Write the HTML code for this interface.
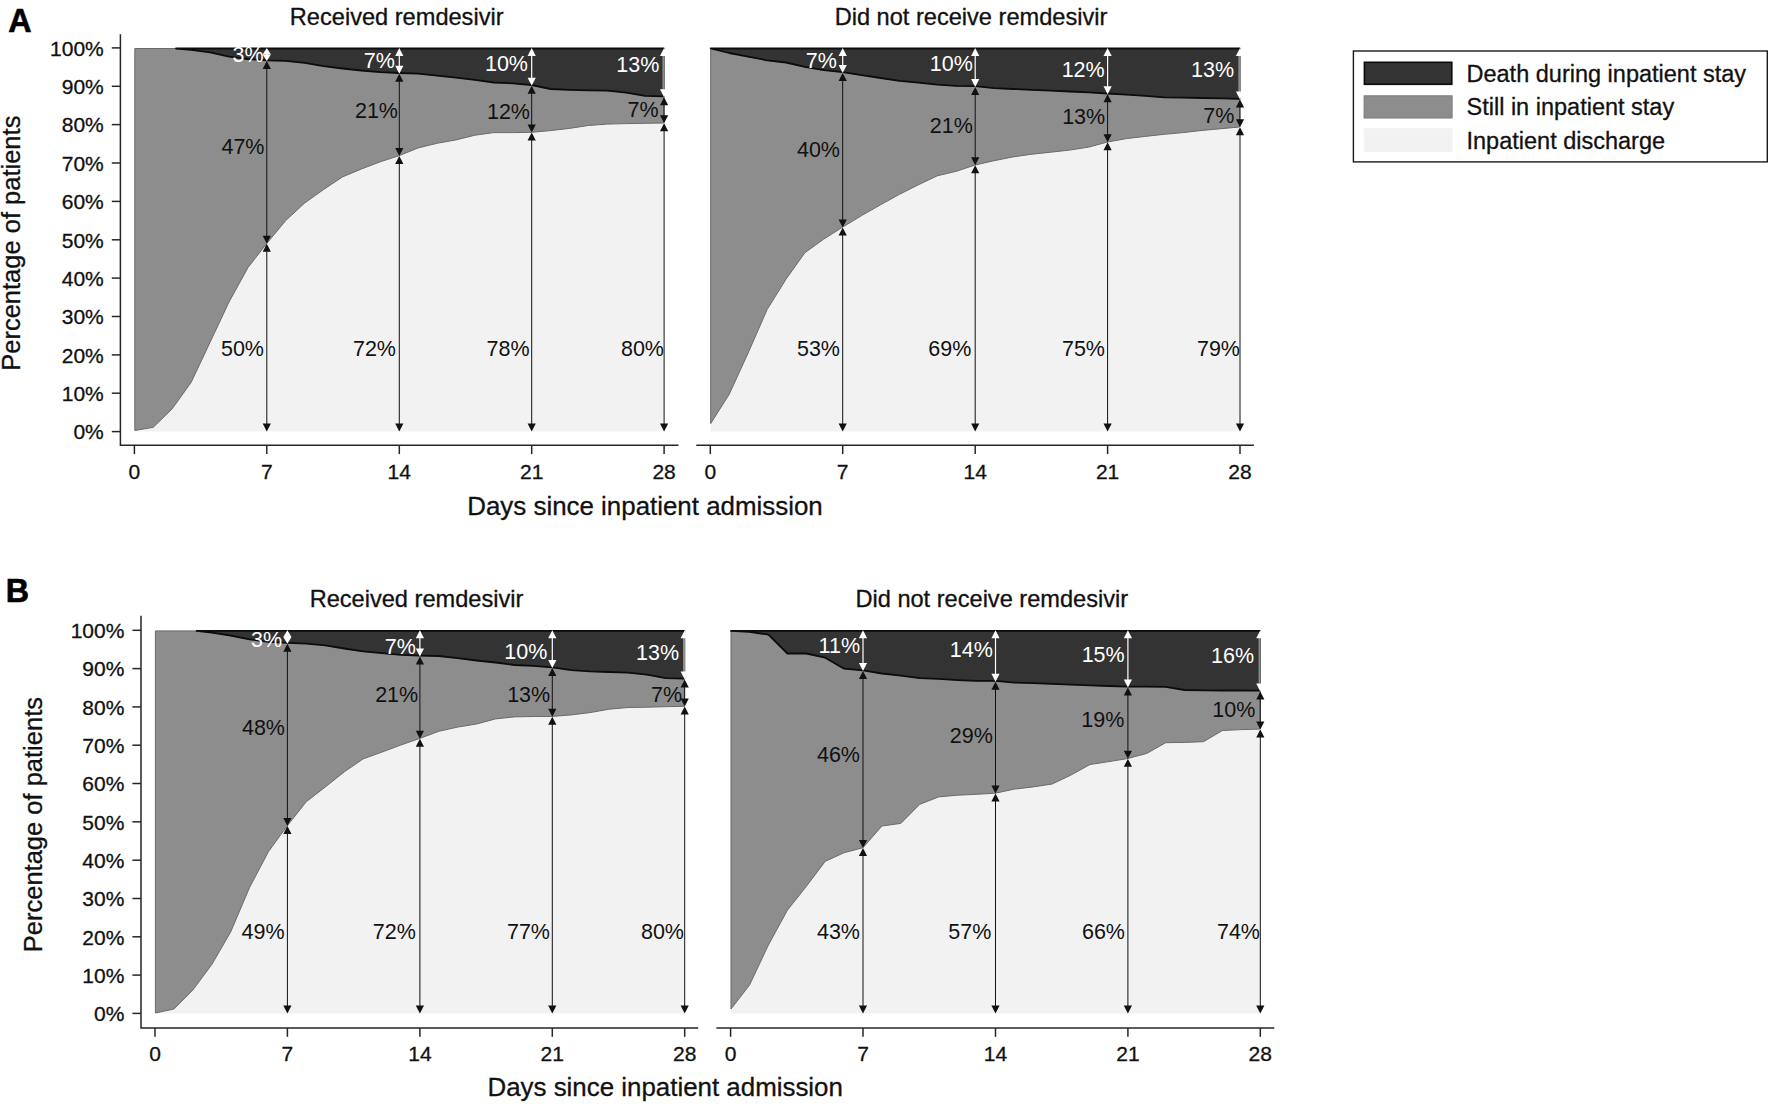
<!DOCTYPE html>
<html lang="en"><head><meta charset="utf-8"><title>Figure</title>
<style>
html,body{margin:0;padding:0;background:#fff}
body{width:1772px;height:1106px;overflow:hidden}
svg{display:block;font-family:"Liberation Sans", Arial, sans-serif}
</style></head><body>
<svg width="1772" height="1106" viewBox="0 0 1772 1106">
<rect width="1772" height="1106" fill="#fff"/>
<g>
<polygon points="134.8,431.6 134.8,430.5 153.3,427.3 172.2,408.8 191.2,382.3 210.1,342.2 229,302 247.9,267.7 266.8,243.4 285.7,220.6 304.7,203 323.6,189.5 342.5,176.9 361.4,169 380.3,161.8 399.3,155.6 418.2,147.9 437.1,143.3 456,139.9 474.9,135.2 493.8,132.6 512.8,132.6 531.7,132.3 550.6,130.6 569.5,128.4 588.4,125.5 607.4,124.1 626.3,123.6 645.2,123.3 663.7,123 663.7,431.6" fill="#f2f2f2"/>
<polygon points="134.8,48.5 176,48.5 191.2,49.8 210.1,52.3 229,56.6 247.9,59 266.8,60.3 285.7,60.8 304.7,62.9 323.6,66.1 342.5,68.5 361.4,70.5 380.3,72.1 399.3,73 418.2,73.7 437.1,75.7 456,77.7 474.9,79.9 493.8,82.5 512.8,83.3 531.7,85 550.6,89 569.5,89.8 588.4,90.3 607.4,90.7 626.3,92.7 645.2,95.8 663.7,96.4 663.7,123 645.2,123.3 626.3,123.6 607.4,124.1 588.4,125.5 569.5,128.4 550.6,130.6 531.7,132.3 512.8,132.6 493.8,132.6 474.9,135.2 456,139.9 437.1,143.3 418.2,147.9 399.3,155.6 380.3,161.8 361.4,169 342.5,176.9 323.6,189.5 304.7,203 285.7,220.6 266.8,243.4 247.9,267.7 229,302 210.1,342.2 191.2,382.3 172.2,408.8 153.3,427.3 134.8,430.5" fill="#8d8d8d" stroke="#6a6a6a" stroke-width="1" stroke-linejoin="round"/>
<polygon points="176,48.5 176,48.5 191.2,49.8 210.1,52.3 229,56.6 247.9,59 266.8,60.3 285.7,60.8 304.7,62.9 323.6,66.1 342.5,68.5 361.4,70.5 380.3,72.1 399.3,73 418.2,73.7 437.1,75.7 456,77.7 474.9,79.9 493.8,82.5 512.8,83.3 531.7,85 550.6,89 569.5,89.8 588.4,90.3 607.4,90.7 626.3,92.7 645.2,95.8 663.7,96.4 663.7,48.5" fill="#333333" stroke="#0c0c0c" stroke-width="1.8" stroke-linejoin="round"/>
<line x1="266.8" y1="247.7" x2="266.8" y2="427.6" stroke="#111" stroke-width="1.0"/><polygon points="266.8,243.7 262.7,251.7 270.9,251.7" fill="#111"/><polygon points="266.8,431.6 262.7,423.6 270.9,423.6" fill="#111"/>
<line x1="266.8" y1="65.1" x2="266.8" y2="239.7" stroke="#111" stroke-width="1.0"/><polygon points="266.8,61.1 262.7,69.1 270.9,69.1" fill="#111"/><polygon points="266.8,243.7 262.7,235.7 270.9,235.7" fill="#111"/>
<line x1="266.8" y1="51.2" x2="266.8" y2="57.8" stroke="#fff" stroke-width="1.2"/><polygon points="266.8,47.9 262.7,54.5 270.9,54.5" fill="#fff"/><polygon points="266.8,61.1 262.7,54.5 270.9,54.5" fill="#fff"/>
<line x1="399.3" y1="159.9" x2="399.3" y2="427.6" stroke="#111" stroke-width="1.0"/><polygon points="399.3,155.9 395.2,163.9 403.4,163.9" fill="#111"/><polygon points="399.3,431.6 395.2,423.6 403.4,423.6" fill="#111"/>
<line x1="399.3" y1="77.8" x2="399.3" y2="151.9" stroke="#111" stroke-width="1.0"/><polygon points="399.3,73.8 395.2,81.8 403.4,81.8" fill="#111"/><polygon points="399.3,155.9 395.2,147.9 403.4,147.9" fill="#111"/>
<line x1="399.3" y1="51.9" x2="399.3" y2="69.8" stroke="#fff" stroke-width="1.2"/><polygon points="399.3,47.9 395.2,55.9 403.4,55.9" fill="#fff"/><polygon points="399.3,73.8 395.2,65.8 403.4,65.8" fill="#fff"/>
<line x1="531.7" y1="136.6" x2="531.7" y2="427.6" stroke="#111" stroke-width="1.0"/><polygon points="531.7,132.6 527.6,140.6 535.8,140.6" fill="#111"/><polygon points="531.7,431.6 527.6,423.6 535.8,423.6" fill="#111"/>
<line x1="531.7" y1="89.8" x2="531.7" y2="128.6" stroke="#111" stroke-width="1.0"/><polygon points="531.7,85.8 527.6,93.8 535.8,93.8" fill="#111"/><polygon points="531.7,132.6 527.6,124.6 535.8,124.6" fill="#111"/>
<line x1="531.7" y1="51.9" x2="531.7" y2="81.8" stroke="#fff" stroke-width="1.2"/><polygon points="531.7,47.9 527.6,55.9 535.8,55.9" fill="#fff"/><polygon points="531.7,85.8 527.6,77.8 535.8,77.8" fill="#fff"/>
<line x1="664.1" y1="127.3" x2="664.1" y2="427.6" stroke="#111" stroke-width="1.0"/><polygon points="664.1,123.3 660,131.3 668.2,131.3" fill="#111"/><polygon points="664.1,431.6 660,423.6 668.2,423.6" fill="#111"/>
<line x1="664.1" y1="101.2" x2="664.1" y2="119.3" stroke="#111" stroke-width="1.0"/><polygon points="664.1,97.2 660,105.2 668.2,105.2" fill="#111"/><polygon points="664.1,123.3 660,115.3 668.2,115.3" fill="#111"/>
<line x1="663.4" y1="54.4" x2="663.4" y2="90.2" stroke="#8c8c8c" stroke-width="2"/>
<line x1="664.1" y1="51.9" x2="664.1" y2="93.2" stroke="#fff" stroke-width="0"/><polygon points="664.1,47.9 660,55.9 668.2,55.9" fill="#fff"/><polygon points="664.1,97.2 660,89.2 668.2,89.2" fill="#fff"/>
<text x="263.6" y="62.3" text-anchor="end" font-size="21.5" fill="#fff">3%</text>
<text x="264.5" y="154" text-anchor="end" font-size="21.5" fill="#111">47%</text>
<text x="264" y="356.3" text-anchor="end" font-size="21.5" fill="#111">50%</text>
<text x="394.8" y="68" text-anchor="end" font-size="21.5" fill="#fff">7%</text>
<text x="398" y="117.5" text-anchor="end" font-size="21.5" fill="#111">21%</text>
<text x="396" y="356.3" text-anchor="end" font-size="21.5" fill="#111">72%</text>
<text x="528" y="71.4" text-anchor="end" font-size="21.5" fill="#fff">10%</text>
<text x="530" y="118.5" text-anchor="end" font-size="21.5" fill="#111">12%</text>
<text x="529.6" y="356.3" text-anchor="end" font-size="21.5" fill="#111">78%</text>
<text x="659.4" y="72.3" text-anchor="end" font-size="21.5" fill="#fff">13%</text>
<text x="658.6" y="117.3" text-anchor="end" font-size="21.5" fill="#111">7%</text>
<text x="664" y="356.3" text-anchor="end" font-size="21.5" fill="#111">80%</text>
</g>
<g>
<polygon points="710.7,431.6 710.7,423.6 729.2,394.3 748.1,353 767.1,309.6 786,279.2 804.9,252.7 823.8,239.1 842.7,227.1 861.6,215.6 880.6,204.8 899.5,194.3 918.4,184.8 937.3,175.8 956.2,171.3 975.2,165 994.1,160.7 1013,156.9 1031.9,154.2 1050.8,152.2 1069.7,150.1 1088.7,147.1 1107.6,142 1126.5,138.6 1145.4,136.4 1164.3,134.3 1183.2,132.6 1202.2,130.4 1221.1,128.7 1239.6,127 1239.6,431.6" fill="#f2f2f2"/>
<polygon points="710.7,48.5 729.2,53 748.1,56.6 767.1,60.3 786,62.5 804.9,66.9 823.8,70.1 842.7,72.1 861.6,75.1 880.6,78 899.5,80.8 918.4,82.7 937.3,84.6 956.2,85.9 975.2,86.2 994.1,88.1 1013,89 1031.9,89.8 1050.8,90.7 1069.7,91.5 1088.7,92.4 1107.6,93.5 1126.5,94.7 1145.4,95.8 1164.3,97.3 1183.2,97.6 1202.2,98 1221.1,98.3 1239.6,98.8 1239.6,127 1221.1,128.7 1202.2,130.4 1183.2,132.6 1164.3,134.3 1145.4,136.4 1126.5,138.6 1107.6,142 1088.7,147.1 1069.7,150.1 1050.8,152.2 1031.9,154.2 1013,156.9 994.1,160.7 975.2,165 956.2,171.3 937.3,175.8 918.4,184.8 899.5,194.3 880.6,204.8 861.6,215.6 842.7,227.1 823.8,239.1 804.9,252.7 786,279.2 767.1,309.6 748.1,353 729.2,394.3 710.7,423.6" fill="#8d8d8d" stroke="#6a6a6a" stroke-width="1" stroke-linejoin="round"/>
<polygon points="710.7,48.5 710.7,48.5 729.2,53 748.1,56.6 767.1,60.3 786,62.5 804.9,66.9 823.8,70.1 842.7,72.1 861.6,75.1 880.6,78 899.5,80.8 918.4,82.7 937.3,84.6 956.2,85.9 975.2,86.2 994.1,88.1 1013,89 1031.9,89.8 1050.8,90.7 1069.7,91.5 1088.7,92.4 1107.6,93.5 1126.5,94.7 1145.4,95.8 1164.3,97.3 1183.2,97.6 1202.2,98 1221.1,98.3 1239.6,98.8 1239.6,48.5" fill="#333333" stroke="#0c0c0c" stroke-width="1.8" stroke-linejoin="round"/>
<line x1="842.7" y1="231.4" x2="842.7" y2="427.6" stroke="#111" stroke-width="1.0"/><polygon points="842.7,227.4 838.6,235.4 846.8,235.4" fill="#111"/><polygon points="842.7,431.6 838.6,423.6 846.8,423.6" fill="#111"/>
<line x1="842.7" y1="76.9" x2="842.7" y2="223.4" stroke="#111" stroke-width="1.0"/><polygon points="842.7,72.9 838.6,80.9 846.8,80.9" fill="#111"/><polygon points="842.7,227.4 838.6,219.4 846.8,219.4" fill="#111"/>
<line x1="842.7" y1="51.9" x2="842.7" y2="68.9" stroke="#fff" stroke-width="1.2"/><polygon points="842.7,47.9 838.6,55.9 846.8,55.9" fill="#fff"/><polygon points="842.7,72.9 838.6,64.9 846.8,64.9" fill="#fff"/>
<line x1="975.2" y1="169.3" x2="975.2" y2="427.6" stroke="#111" stroke-width="1.0"/><polygon points="975.2,165.3 971.1,173.3 979.3,173.3" fill="#111"/><polygon points="975.2,431.6 971.1,423.6 979.3,423.6" fill="#111"/>
<line x1="975.2" y1="91" x2="975.2" y2="161.3" stroke="#111" stroke-width="1.0"/><polygon points="975.2,87 971.1,95 979.3,95" fill="#111"/><polygon points="975.2,165.3 971.1,157.3 979.3,157.3" fill="#111"/>
<line x1="975.2" y1="51.9" x2="975.2" y2="83" stroke="#fff" stroke-width="1.2"/><polygon points="975.2,47.9 971.1,55.9 979.3,55.9" fill="#fff"/><polygon points="975.2,87 971.1,79 979.3,79" fill="#fff"/>
<line x1="1107.6" y1="146.3" x2="1107.6" y2="427.6" stroke="#111" stroke-width="1.0"/><polygon points="1107.6,142.3 1103.5,150.3 1111.7,150.3" fill="#111"/><polygon points="1107.6,431.6 1103.5,423.6 1111.7,423.6" fill="#111"/>
<line x1="1107.6" y1="98.3" x2="1107.6" y2="138.3" stroke="#111" stroke-width="1.0"/><polygon points="1107.6,94.3 1103.5,102.3 1111.7,102.3" fill="#111"/><polygon points="1107.6,142.3 1103.5,134.3 1111.7,134.3" fill="#111"/>
<line x1="1107.6" y1="51.9" x2="1107.6" y2="90.3" stroke="#fff" stroke-width="1.2"/><polygon points="1107.6,47.9 1103.5,55.9 1111.7,55.9" fill="#fff"/><polygon points="1107.6,94.3 1103.5,86.3 1111.7,86.3" fill="#fff"/>
<line x1="1240" y1="131.3" x2="1240" y2="427.6" stroke="#111" stroke-width="1.0"/><polygon points="1240,127.3 1235.9,135.3 1244.1,135.3" fill="#111"/><polygon points="1240,431.6 1235.9,423.6 1244.1,423.6" fill="#111"/>
<line x1="1240" y1="103.6" x2="1240" y2="123.3" stroke="#111" stroke-width="1.0"/><polygon points="1240,99.6 1235.9,107.6 1244.1,107.6" fill="#111"/><polygon points="1240,127.3 1235.9,119.3 1244.1,119.3" fill="#111"/>
<line x1="1239.3" y1="54.4" x2="1239.3" y2="92.6" stroke="#8c8c8c" stroke-width="2"/>
<line x1="1240" y1="51.9" x2="1240" y2="95.6" stroke="#fff" stroke-width="0"/><polygon points="1240,47.9 1235.9,55.9 1244.1,55.9" fill="#fff"/><polygon points="1240,99.6 1235.9,91.6 1244.1,91.6" fill="#fff"/>
<text x="836.9" y="67.7" text-anchor="end" font-size="21.5" fill="#fff">7%</text>
<text x="840" y="157.1" text-anchor="end" font-size="21.5" fill="#111">40%</text>
<text x="840" y="355.6" text-anchor="end" font-size="21.5" fill="#111">53%</text>
<text x="972.9" y="71.3" text-anchor="end" font-size="21.5" fill="#fff">10%</text>
<text x="972.9" y="133" text-anchor="end" font-size="21.5" fill="#111">21%</text>
<text x="971.3" y="355.6" text-anchor="end" font-size="21.5" fill="#111">69%</text>
<text x="1104.7" y="76.5" text-anchor="end" font-size="21.5" fill="#fff">12%</text>
<text x="1105.2" y="124.1" text-anchor="end" font-size="21.5" fill="#111">13%</text>
<text x="1105" y="355.6" text-anchor="end" font-size="21.5" fill="#111">75%</text>
<text x="1234.1" y="77.4" text-anchor="end" font-size="21.5" fill="#fff">13%</text>
<text x="1234.4" y="123.3" text-anchor="end" font-size="21.5" fill="#111">7%</text>
<text x="1240" y="355.6" text-anchor="end" font-size="21.5" fill="#111">79%</text>
</g>
<g>
<polygon points="155.4,1013.4 155.4,1013 173.9,1009 192.8,990.1 211.8,964.5 230.7,931.9 249.6,887.4 268.5,851.6 287.4,825.6 306.3,801.7 325.3,787 344.2,771.9 363.1,758.9 382,752.1 400.9,745 419.9,738.4 438.8,731.3 457.7,727.1 476.6,724 495.5,718.9 514.4,716.9 533.4,716.5 552.3,716.4 571.2,714.9 590.1,712.6 609,709.2 628,707.5 646.9,707.2 665.8,706.7 684.3,706.3 684.3,1013.4" fill="#f2f2f2"/>
<polygon points="155.4,630.9 196.6,630.9 211.8,632.7 230.7,635.5 249.6,639.3 268.5,641.8 287.4,642.9 306.3,643.7 325.3,645.3 344.2,648.5 363.1,651.3 382,653.2 400.9,654.8 419.9,655.6 438.8,656 457.7,658.2 476.6,660.5 495.5,662.5 514.4,665 533.4,665.9 552.3,667.3 571.2,670.1 590.1,671.3 609,672 628,672.7 646.9,674.7 665.8,678.1 684.3,678.6 684.3,706.3 665.8,706.7 646.9,707.2 628,707.5 609,709.2 590.1,712.6 571.2,714.9 552.3,716.4 533.4,716.5 514.4,716.9 495.5,718.9 476.6,724 457.7,727.1 438.8,731.3 419.9,738.4 400.9,745 382,752.1 363.1,758.9 344.2,771.9 325.3,787 306.3,801.7 287.4,825.6 268.5,851.6 249.6,887.4 230.7,931.9 211.8,964.5 192.8,990.1 173.9,1009 155.4,1013" fill="#8d8d8d" stroke="#6a6a6a" stroke-width="1" stroke-linejoin="round"/>
<polygon points="196.6,630.9 196.6,630.9 211.8,632.7 230.7,635.5 249.6,639.3 268.5,641.8 287.4,642.9 306.3,643.7 325.3,645.3 344.2,648.5 363.1,651.3 382,653.2 400.9,654.8 419.9,655.6 438.8,656 457.7,658.2 476.6,660.5 495.5,662.5 514.4,665 533.4,665.9 552.3,667.3 571.2,670.1 590.1,671.3 609,672 628,672.7 646.9,674.7 665.8,678.1 684.3,678.6 684.3,630.9" fill="#333333" stroke="#0c0c0c" stroke-width="1.8" stroke-linejoin="round"/>
<line x1="287.4" y1="829.9" x2="287.4" y2="1009.4" stroke="#111" stroke-width="1.0"/><polygon points="287.4,825.9 283.3,833.9 291.5,833.9" fill="#111"/><polygon points="287.4,1013.4 283.3,1005.4 291.5,1005.4" fill="#111"/>
<line x1="287.4" y1="647.7" x2="287.4" y2="821.9" stroke="#111" stroke-width="1.0"/><polygon points="287.4,643.7 283.3,651.7 291.5,651.7" fill="#111"/><polygon points="287.4,825.9 283.3,817.9 291.5,817.9" fill="#111"/>
<line x1="287.4" y1="633.6" x2="287.4" y2="640.3" stroke="#fff" stroke-width="1.2"/><polygon points="287.4,630.3 283.3,637 291.5,637" fill="#fff"/><polygon points="287.4,643.7 283.3,637 291.5,637" fill="#fff"/>
<line x1="419.9" y1="742.7" x2="419.9" y2="1009.4" stroke="#111" stroke-width="1.0"/><polygon points="419.9,738.7 415.8,746.7 424,746.7" fill="#111"/><polygon points="419.9,1013.4 415.8,1005.4 424,1005.4" fill="#111"/>
<line x1="419.9" y1="660.4" x2="419.9" y2="734.7" stroke="#111" stroke-width="1.0"/><polygon points="419.9,656.4 415.8,664.4 424,664.4" fill="#111"/><polygon points="419.9,738.7 415.8,730.7 424,730.7" fill="#111"/>
<line x1="419.9" y1="634.3" x2="419.9" y2="652.4" stroke="#fff" stroke-width="1.2"/><polygon points="419.9,630.3 415.8,638.3 424,638.3" fill="#fff"/><polygon points="419.9,656.4 415.8,648.4 424,648.4" fill="#fff"/>
<line x1="552.3" y1="720.7" x2="552.3" y2="1009.4" stroke="#111" stroke-width="1.0"/><polygon points="552.3,716.7 548.2,724.7 556.4,724.7" fill="#111"/><polygon points="552.3,1013.4 548.2,1005.4 556.4,1005.4" fill="#111"/>
<line x1="552.3" y1="672.1" x2="552.3" y2="712.7" stroke="#111" stroke-width="1.0"/><polygon points="552.3,668.1 548.2,676.1 556.4,676.1" fill="#111"/><polygon points="552.3,716.7 548.2,708.7 556.4,708.7" fill="#111"/>
<line x1="552.3" y1="634.3" x2="552.3" y2="664.1" stroke="#fff" stroke-width="1.2"/><polygon points="552.3,630.3 548.2,638.3 556.4,638.3" fill="#fff"/><polygon points="552.3,668.1 548.2,660.1 556.4,660.1" fill="#fff"/>
<line x1="684.7" y1="710.6" x2="684.7" y2="1009.4" stroke="#111" stroke-width="1.0"/><polygon points="684.7,706.6 680.6,714.6 688.8,714.6" fill="#111"/><polygon points="684.7,1013.4 680.6,1005.4 688.8,1005.4" fill="#111"/>
<line x1="684.7" y1="683.4" x2="684.7" y2="702.6" stroke="#111" stroke-width="1.0"/><polygon points="684.7,679.4 680.6,687.4 688.8,687.4" fill="#111"/><polygon points="684.7,706.6 680.6,698.6 688.8,698.6" fill="#111"/>
<line x1="684" y1="636.8" x2="684" y2="672.4" stroke="#8c8c8c" stroke-width="2"/>
<line x1="684.7" y1="634.3" x2="684.7" y2="675.4" stroke="#fff" stroke-width="0"/><polygon points="684.7,630.3 680.6,638.3 688.8,638.3" fill="#fff"/><polygon points="684.7,679.4 680.6,671.4 688.8,671.4" fill="#fff"/>
<text x="282.1" y="646.6" text-anchor="end" font-size="21.5" fill="#fff">3%</text>
<text x="285" y="734.7" text-anchor="end" font-size="21.5" fill="#111">48%</text>
<text x="284.6" y="938.5" text-anchor="end" font-size="21.5" fill="#111">49%</text>
<text x="415.8" y="653.5" text-anchor="end" font-size="21.5" fill="#fff">7%</text>
<text x="418.2" y="702.3" text-anchor="end" font-size="21.5" fill="#111">21%</text>
<text x="415.9" y="938.5" text-anchor="end" font-size="21.5" fill="#111">72%</text>
<text x="547.3" y="659.1" text-anchor="end" font-size="21.5" fill="#fff">10%</text>
<text x="550.2" y="701.6" text-anchor="end" font-size="21.5" fill="#111">13%</text>
<text x="550" y="938.5" text-anchor="end" font-size="21.5" fill="#111">77%</text>
<text x="679.1" y="659.9" text-anchor="end" font-size="21.5" fill="#fff">13%</text>
<text x="682" y="701.6" text-anchor="end" font-size="21.5" fill="#111">7%</text>
<text x="684" y="938.5" text-anchor="end" font-size="21.5" fill="#111">80%</text>
</g>
<g>
<polygon points="731,1013.4 731,1009 749.5,985.1 768.4,945 787.4,910.2 806.3,886.4 825.2,861.4 844.1,852.7 863,847.7 881.9,826 900.9,823.4 919.8,804.3 938.7,796.9 957.6,795.2 976.5,794.3 995.5,793.2 1014.4,789.1 1033.3,786.9 1052.2,784 1071.1,775 1090,764.5 1109,761.6 1127.9,758.5 1146.8,753.4 1165.7,742.7 1184.6,742.4 1203.5,741.7 1222.5,730.5 1241.4,729.6 1259.9,729.1 1259.9,1013.4" fill="#f2f2f2"/>
<polygon points="731,630.9 749.5,631.9 768.4,634.6 787.4,653.5 806.3,653.5 825.2,657.7 844.1,668.7 863,670.3 881.9,673.5 900.9,675.7 919.8,678.2 938.7,678.9 957.6,680.1 976.5,680.9 995.5,680.9 1014.4,682.6 1033.3,683.2 1052.2,683.9 1071.1,684.6 1090,685.3 1109,686 1127.9,686.6 1146.8,686.6 1165.7,686.8 1184.6,690 1203.5,690.4 1222.5,690.5 1241.4,690.5 1259.9,690.7 1259.9,729.1 1241.4,729.6 1222.5,730.5 1203.5,741.7 1184.6,742.4 1165.7,742.7 1146.8,753.4 1127.9,758.5 1109,761.6 1090,764.5 1071.1,775 1052.2,784 1033.3,786.9 1014.4,789.1 995.5,793.2 976.5,794.3 957.6,795.2 938.7,796.9 919.8,804.3 900.9,823.4 881.9,826 863,847.7 844.1,852.7 825.2,861.4 806.3,886.4 787.4,910.2 768.4,945 749.5,985.1 731,1009" fill="#8d8d8d" stroke="#6a6a6a" stroke-width="1" stroke-linejoin="round"/>
<polygon points="731,630.9 731,630.9 749.5,631.9 768.4,634.6 787.4,653.5 806.3,653.5 825.2,657.7 844.1,668.7 863,670.3 881.9,673.5 900.9,675.7 919.8,678.2 938.7,678.9 957.6,680.1 976.5,680.9 995.5,680.9 1014.4,682.6 1033.3,683.2 1052.2,683.9 1071.1,684.6 1090,685.3 1109,686 1127.9,686.6 1146.8,686.6 1165.7,686.8 1184.6,690 1203.5,690.4 1222.5,690.5 1241.4,690.5 1259.9,690.7 1259.9,630.9" fill="#333333" stroke="#0c0c0c" stroke-width="1.8" stroke-linejoin="round"/>
<line x1="863" y1="852" x2="863" y2="1009.4" stroke="#111" stroke-width="1.0"/><polygon points="863,848 858.9,856 867.1,856" fill="#111"/><polygon points="863,1013.4 858.9,1005.4 867.1,1005.4" fill="#111"/>
<line x1="863" y1="675.1" x2="863" y2="844" stroke="#111" stroke-width="1.0"/><polygon points="863,671.1 858.9,679.1 867.1,679.1" fill="#111"/><polygon points="863,848 858.9,840 867.1,840" fill="#111"/>
<line x1="863" y1="634.3" x2="863" y2="667.1" stroke="#fff" stroke-width="1.2"/><polygon points="863,630.3 858.9,638.3 867.1,638.3" fill="#fff"/><polygon points="863,671.1 858.9,663.1 867.1,663.1" fill="#fff"/>
<line x1="995.5" y1="797.5" x2="995.5" y2="1009.4" stroke="#111" stroke-width="1.0"/><polygon points="995.5,793.5 991.4,801.5 999.6,801.5" fill="#111"/><polygon points="995.5,1013.4 991.4,1005.4 999.6,1005.4" fill="#111"/>
<line x1="995.5" y1="685.7" x2="995.5" y2="789.5" stroke="#111" stroke-width="1.0"/><polygon points="995.5,681.7 991.4,689.7 999.6,689.7" fill="#111"/><polygon points="995.5,793.5 991.4,785.5 999.6,785.5" fill="#111"/>
<line x1="995.5" y1="634.3" x2="995.5" y2="677.7" stroke="#fff" stroke-width="1.2"/><polygon points="995.5,630.3 991.4,638.3 999.6,638.3" fill="#fff"/><polygon points="995.5,681.7 991.4,673.7 999.6,673.7" fill="#fff"/>
<line x1="1127.9" y1="762.8" x2="1127.9" y2="1009.4" stroke="#111" stroke-width="1.0"/><polygon points="1127.9,758.8 1123.8,766.8 1132,766.8" fill="#111"/><polygon points="1127.9,1013.4 1123.8,1005.4 1132,1005.4" fill="#111"/>
<line x1="1127.9" y1="691.4" x2="1127.9" y2="754.8" stroke="#111" stroke-width="1.0"/><polygon points="1127.9,687.4 1123.8,695.4 1132,695.4" fill="#111"/><polygon points="1127.9,758.8 1123.8,750.8 1132,750.8" fill="#111"/>
<line x1="1127.9" y1="634.3" x2="1127.9" y2="683.4" stroke="#fff" stroke-width="1.2"/><polygon points="1127.9,630.3 1123.8,638.3 1132,638.3" fill="#fff"/><polygon points="1127.9,687.4 1123.8,679.4 1132,679.4" fill="#fff"/>
<line x1="1260.3" y1="733.4" x2="1260.3" y2="1009.4" stroke="#111" stroke-width="1.0"/><polygon points="1260.3,729.4 1256.2,737.4 1264.4,737.4" fill="#111"/><polygon points="1260.3,1013.4 1256.2,1005.4 1264.4,1005.4" fill="#111"/>
<line x1="1260.3" y1="695.5" x2="1260.3" y2="725.4" stroke="#111" stroke-width="1.0"/><polygon points="1260.3,691.5 1256.2,699.5 1264.4,699.5" fill="#111"/><polygon points="1260.3,729.4 1256.2,721.4 1264.4,721.4" fill="#111"/>
<line x1="1259.6" y1="636.8" x2="1259.6" y2="684.5" stroke="#8c8c8c" stroke-width="2"/>
<line x1="1260.3" y1="634.3" x2="1260.3" y2="687.5" stroke="#fff" stroke-width="0"/><polygon points="1260.3,630.3 1256.2,638.3 1264.4,638.3" fill="#fff"/><polygon points="1260.3,691.5 1256.2,683.5 1264.4,683.5" fill="#fff"/>
<text x="860" y="652.9" text-anchor="end" font-size="21.5" fill="#fff">11%</text>
<text x="860" y="762.4" text-anchor="end" font-size="21.5" fill="#111">46%</text>
<text x="860" y="938.5" text-anchor="end" font-size="21.5" fill="#111">43%</text>
<text x="992.9" y="656.7" text-anchor="end" font-size="21.5" fill="#fff">14%</text>
<text x="992.9" y="743.4" text-anchor="end" font-size="21.5" fill="#111">29%</text>
<text x="991.3" y="938.5" text-anchor="end" font-size="21.5" fill="#111">57%</text>
<text x="1124.7" y="661.6" text-anchor="end" font-size="21.5" fill="#fff">15%</text>
<text x="1124.4" y="727.4" text-anchor="end" font-size="21.5" fill="#111">19%</text>
<text x="1125" y="938.5" text-anchor="end" font-size="21.5" fill="#111">66%</text>
<text x="1254.1" y="663.3" text-anchor="end" font-size="21.5" fill="#fff">16%</text>
<text x="1255.3" y="716.9" text-anchor="end" font-size="21.5" fill="#111">10%</text>
<text x="1260" y="938.5" text-anchor="end" font-size="21.5" fill="#111">74%</text>
</g>
<g stroke="#262626" stroke-width="1.5" fill="none"><path d="M120.4 34.2 V445.3 H678.4"/><path d="M696.3 445.3 H1253.9"/><path d="M120.4 431.6 h-8.6"/><path d="M120.4 393.2 h-8.6"/><path d="M120.4 354.9 h-8.6"/><path d="M120.4 316.5 h-8.6"/><path d="M120.4 278.1 h-8.6"/><path d="M120.4 239.8 h-8.6"/><path d="M120.4 201.4 h-8.6"/><path d="M120.4 163 h-8.6"/><path d="M120.4 124.6 h-8.6"/><path d="M120.4 86.3 h-8.6"/><path d="M120.4 47.9 h-8.6"/><path d="M134.4 445.3 v8.8"/><path d="M710.3 445.3 v8.8"/><path d="M266.8 445.3 v8.8"/><path d="M842.7 445.3 v8.8"/><path d="M399.3 445.3 v8.8"/><path d="M975.2 445.3 v8.8"/><path d="M531.7 445.3 v8.8"/><path d="M1107.6 445.3 v8.8"/><path d="M664.1 445.3 v8.8"/><path d="M1240 445.3 v8.8"/></g><g font-size="21" fill="#111" stroke="#111" stroke-width="0.3"><text x="103.8" y="439.4" text-anchor="end">0%</text><text x="103.8" y="401" text-anchor="end">10%</text><text x="103.8" y="362.7" text-anchor="end">20%</text><text x="103.8" y="324.3" text-anchor="end">30%</text><text x="103.8" y="285.9" text-anchor="end">40%</text><text x="103.8" y="247.6" text-anchor="end">50%</text><text x="103.8" y="209.2" text-anchor="end">60%</text><text x="103.8" y="170.8" text-anchor="end">70%</text><text x="103.8" y="132.4" text-anchor="end">80%</text><text x="103.8" y="94.1" text-anchor="end">90%</text><text x="103.8" y="55.7" text-anchor="end">100%</text><text x="134.4" y="479" text-anchor="middle">0</text><text x="710.3" y="479" text-anchor="middle">0</text><text x="266.8" y="479" text-anchor="middle">7</text><text x="842.7" y="479" text-anchor="middle">7</text><text x="399.3" y="479" text-anchor="middle">14</text><text x="975.2" y="479" text-anchor="middle">14</text><text x="531.7" y="479" text-anchor="middle">21</text><text x="1107.6" y="479" text-anchor="middle">21</text><text x="664.1" y="479" text-anchor="middle">28</text><text x="1240" y="479" text-anchor="middle">28</text></g>
<g stroke="#262626" stroke-width="1.5" fill="none"><path d="M141 615.8 V1028 H698.2"/><path d="M716.4 1028 H1274.3"/><path d="M141 1013.4 h-8.6"/><path d="M141 975.1 h-8.6"/><path d="M141 936.8 h-8.6"/><path d="M141 898.5 h-8.6"/><path d="M141 860.2 h-8.6"/><path d="M141 821.8 h-8.6"/><path d="M141 783.5 h-8.6"/><path d="M141 745.2 h-8.6"/><path d="M141 706.9 h-8.6"/><path d="M141 668.6 h-8.6"/><path d="M141 630.3 h-8.6"/><path d="M155 1028 v8.8"/><path d="M730.6 1028 v8.8"/><path d="M287.4 1028 v8.8"/><path d="M863 1028 v8.8"/><path d="M419.9 1028 v8.8"/><path d="M995.5 1028 v8.8"/><path d="M552.3 1028 v8.8"/><path d="M1127.9 1028 v8.8"/><path d="M684.7 1028 v8.8"/><path d="M1260.3 1028 v8.8"/></g><g font-size="21" fill="#111" stroke="#111" stroke-width="0.3"><text x="124.4" y="1021.2" text-anchor="end">0%</text><text x="124.4" y="982.9" text-anchor="end">10%</text><text x="124.4" y="944.6" text-anchor="end">20%</text><text x="124.4" y="906.3" text-anchor="end">30%</text><text x="124.4" y="868" text-anchor="end">40%</text><text x="124.4" y="829.6" text-anchor="end">50%</text><text x="124.4" y="791.3" text-anchor="end">60%</text><text x="124.4" y="753" text-anchor="end">70%</text><text x="124.4" y="714.7" text-anchor="end">80%</text><text x="124.4" y="676.4" text-anchor="end">90%</text><text x="124.4" y="638.1" text-anchor="end">100%</text><text x="155" y="1061" text-anchor="middle">0</text><text x="730.6" y="1061" text-anchor="middle">0</text><text x="287.4" y="1061" text-anchor="middle">7</text><text x="863" y="1061" text-anchor="middle">7</text><text x="419.9" y="1061" text-anchor="middle">14</text><text x="995.5" y="1061" text-anchor="middle">14</text><text x="552.3" y="1061" text-anchor="middle">21</text><text x="1127.9" y="1061" text-anchor="middle">21</text><text x="684.7" y="1061" text-anchor="middle">28</text><text x="1260.3" y="1061" text-anchor="middle">28</text></g>
<g font-size="23.6" fill="#111" stroke="#111" stroke-width="0.3"><text x="396.7" y="24.6" text-anchor="middle">Received remdesivir</text><text x="971" y="24.6" text-anchor="middle">Did not receive remdesivir</text><text x="416.5" y="606.7" text-anchor="middle">Received remdesivir</text><text x="991.8" y="606.7" text-anchor="middle">Did not receive remdesivir</text><text x="645" y="514.5" text-anchor="middle" font-size="25.9">Days since inpatient admission</text><text x="665.2" y="1096" text-anchor="middle" font-size="25.9">Days since inpatient admission</text><text transform="translate(20.3 243.2) rotate(-90)" text-anchor="middle" font-size="25.5">Percentage of patients</text><text transform="translate(41.5 824.6) rotate(-90)" text-anchor="middle" font-size="25.5">Percentage of patients</text></g><g font-size="32.3" font-weight="bold" fill="#000" stroke="#000" stroke-width="0.6"><text x="8.3" y="31.9">A</text><text x="5.7" y="602.4">B</text></g>
<rect x="1353.4" y="51" width="413.9" height="110.9" fill="#fff" stroke="#1a1a1a" stroke-width="1.4"/><rect x="1364.4" y="62.3" width="87.4" height="22" fill="#333333" stroke="#0c0c0c" stroke-width="1.6"/><rect x="1364.1" y="95.8" width="88" height="22.2" fill="#8d8d8d" stroke="#7a7a7a" stroke-width="1"/><rect x="1363.6" y="128.2" width="89" height="23.9" fill="#f2f2f2"/><g font-size="23.5" fill="#111" stroke="#111" stroke-width="0.3"><text x="1466.5" y="81.9">Death during inpatient stay</text><text x="1466.5" y="115.1">Still in inpatient stay</text><text x="1466.5" y="148.5">Inpatient discharge</text></g>
</svg>
</body></html>
